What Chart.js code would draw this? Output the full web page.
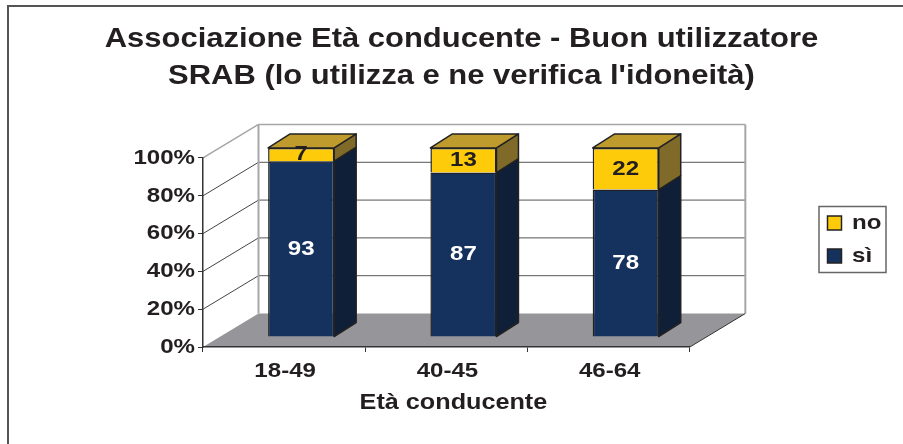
<!DOCTYPE html>
<html>
<head>
<meta charset="utf-8">
<style>
    html, body { margin: 0; padding: 0; background: #ffffff; }
    canvas { display: block; }
</style>
<script src="https://cdn.jsdelivr.net/npm/chart.js@4/dist/chart.umd.min.js"></script>
</head>
<body>
<canvas id="chart" width="903" height="444"></canvas>
<script>
// Chart data
const categories = ['18-49', '40-45', '46-64'];
const siValues = [93, 87, 78];
const noValues = [7, 13, 22];
const yTicks = [0, 20, 40, 60, 80, 100];

const TEXT = '#231f20';
const EDGE = '#222222';

// Depth of the walls, and of the bars and their place inside the box
const WALL_DX = 55.5, WALL_DY = -33.5;
const BAR_SHIFT_X = 17, BAR_SHIFT_Y = -10;
const BAR_DX = 22, BAR_DY = -14;

// The reference text is wider than Liberation Sans, stretch it around its anchor
const TEXT_STRETCH = 1.146;
const canvas = document.getElementById('chart');
const chartCtx = canvas.getContext('2d');
const plainFillText = chartCtx.fillText.bind(chartCtx);
chartCtx.fillText = function(text, x, y, maxWidth) {
    chartCtx.save();
    chartCtx.translate(x, y);
    chartCtx.scale(TEXT_STRETCH, 1);
    if (maxWidth === undefined) plainFillText(text, 0, 0);
    else plainFillText(text, 0, 0, maxWidth);
    chartCtx.restore();
};

function poly(ctx, pts, fill, stroke, width) {
    ctx.beginPath();
    pts.forEach((p, i) => i ? ctx.lineTo(p[0], p[1]) : ctx.moveTo(p[0], p[1]));
    ctx.closePath();
    if (fill) { ctx.fillStyle = fill; ctx.fill(); }
    if (stroke) { ctx.strokeStyle = stroke; ctx.lineWidth = width; ctx.stroke(); }
}

function line(ctx, x1, y1, x2, y2, color, width) {
    ctx.beginPath();
    ctx.moveTo(x1, y1);
    ctx.lineTo(x2, y2);
    ctx.strokeStyle = color;
    ctx.lineWidth = width;
    ctx.stroke();
}

// Outer frame, floor and walls, behind everything else
const boxPlugin = {
    id: 'box',
    afterLayout(chart) {
        // title and legend do not sit where the layout would put them
        chart.titleBlock.left = 20;
        chart.titleBlock.right = 903;
        const legend = chart.legend;
        legend.left = 815.5;
        legend.right = 890;
        legend.top = 200.5;
        legend.bottom = 300;
    },
    beforeDraw(chart) {
        const ctx = chart.ctx;
        const { left, right, bottom } = chart.chartArea;
        const y = chart.scales.y;
        ctx.save();
        line(ctx, 8, 6, 903, 6, '#555555', 2);
        line(ctx, 8, 5, 8, 444, '#555555', 2);

        const backL = left + WALL_DX, backR = right + WALL_DX;
        poly(ctx, [[left, bottom], [backL, bottom + WALL_DY], [backR, bottom + WALL_DY], [right, bottom]], '#96969a');
        yTicks.forEach(v => {
            if (v === 0 || v === 100) return;
            const py = y.getPixelForValue(v);
            line(ctx, left, py, backL, py + WALL_DY, '#444444', 1);
            line(ctx, backL, py + WALL_DY, backR, py + WALL_DY, '#555555', 1);
        });
        const top = y.getPixelForValue(100);
        line(ctx, left, top, backL, top + WALL_DY, '#a6a6a8', 1.5);
        line(ctx, backL, top + WALL_DY, backR, top + WALL_DY, '#a6a6a8', 1.5);
        line(ctx, backL, top + WALL_DY, backL, bottom + WALL_DY, '#a6a6a8', 2);
        line(ctx, backR, top + WALL_DY, backR, bottom + WALL_DY, '#a6a6a8', 2);
        line(ctx, right, bottom, backR, bottom + WALL_DY, '#333333', 1);
        ctx.restore();
    },
    // Sides and tops first, then the library draws the front faces on the shifted origin
    beforeDatasetsDraw(chart) {
        const ctx = chart.ctx;
        ctx.save();
        ctx.translate(BAR_SHIFT_X, BAR_SHIFT_Y);
        ctx.lineJoin = 'round';
        chart.data.datasets.forEach((ds, di) => {
            chart.getDatasetMeta(di).data.forEach(bar => {
                const r = bar.x + bar.width / 2, l = bar.x - bar.width / 2;
                poly(ctx, [[r, bar.y], [r + BAR_DX, bar.y + BAR_DY], [r + BAR_DX, bar.base + BAR_DY], [r, bar.base]],
                    ds.sideColor, EDGE, 1.5);
                if (di === chart.data.datasets.length - 1) {
                    poly(ctx, [[l, bar.y], [l + BAR_DX, bar.y + BAR_DY], [r + BAR_DX, bar.y + BAR_DY], [r, bar.y]],
                        ds.topColor, EDGE, 1.5);
                }
            });
        });
    },
    afterDatasetsDraw(chart) {
        const ctx = chart.ctx;
        ctx.font = 'bold 21px "Liberation Sans"';
        ctx.textAlign = 'center';
        ctx.textBaseline = 'middle';
        chart.data.datasets.forEach((ds, di) => {
            chart.getDatasetMeta(di).data.forEach((bar, i) => {
                ctx.fillStyle = ds.labelColor;
                ctx.fillText(ds.data[i], bar.x, (bar.y + bar.base) / 2);
            });
        });
        ctx.restore();
    },
    afterDraw(chart) {
        const ctx = chart.ctx;
        ctx.save();
        ctx.strokeStyle = '#666666';
        ctx.lineWidth = 1.5;
        ctx.strokeRect(819, 206.5, 67, 66);
        ctx.restore();
    }
};

new Chart(canvas, {
    type: 'bar',
    data: {
        labels: categories,
        datasets: [
            {
                label: 'sì',
                data: siValues,
                backgroundColor: '#15325f',
                sideColor: '#0f1f38',
                topColor: '#15325f',
                labelColor: '#ffffff',
                borderColor: EDGE,
                borderWidth: 1.5
            },
            {
                label: 'no',
                data: noValues,
                backgroundColor: '#fecb0b',
                sideColor: '#806a2a',
                topColor: '#bf9b2e',
                labelColor: TEXT,
                borderColor: EDGE,
                borderWidth: 1.5
            }
        ]
    },
    plugins: [boxPlugin],
    options: {
        responsive: false,
        animation: false,
        layout: { padding: { left: 128, right: 141, top: 21, bottom: 28 } },
        datasets: { bar: { barPercentage: 0.407, categoryPercentage: 1 } },
        scales: {
            x: {
                stacked: true,
                afterFit: s => { s.height = 69; },
                border: { color: '#333333', width: 1.5 },
                grid: { drawOnChartArea: false, offset: true, tickLength: 5, tickColor: '#333333' },
                ticks: {
                    color: TEXT,
                    padding: 7,
                    labelOffset: 1,
                    font: { family: '"Liberation Sans"', weight: 'bold', size: 21 }
                },
                title: {
                    display: true,
                    text: '  Età conducente',
                    color: TEXT,
                    padding: 0,
                    font: { family: '"Liberation Sans"', weight: 'bold', size: 22 }
                }
            },
            y: {
                stacked: true,
                min: 0,
                max: 100,
                afterFit: s => { s.width = 75; },
                border: { color: '#333333', width: 1.5 },
                grid: { drawOnChartArea: false, tickLength: 5, tickColor: '#333333' },
                ticks: {
                    stepSize: 20,
                    color: TEXT,
                    padding: 3,
                    callback: v => v + '%',
                    font: { family: '"Liberation Sans"', weight: 'bold', size: 21 }
                }
            }
        },
        plugins: {
            tooltip: { enabled: false },
            title: {
                display: true,
                text: ['Associazione Età conducente - Buon utilizzatore', 'SRAB (lo utilizza e ne verifica l\'idoneità)'],
                color: TEXT,
                padding: { top: 0, bottom: 63 },
                font: { family: '"Liberation Sans"', weight: 'bold', size: 27, lineHeight: 1.37 }
            },
            legend: {
                position: 'right',
                align: 'start',
                reverse: true,
                labels: {
                    color: TEXT,
                    boxWidth: 14,
                    boxHeight: 14,
                    padding: 12,
                    font: { family: '"Liberation Sans"', weight: 'bold', size: 21 }
                }
            }
        }
    }
});
</script>
</body>
</html>
